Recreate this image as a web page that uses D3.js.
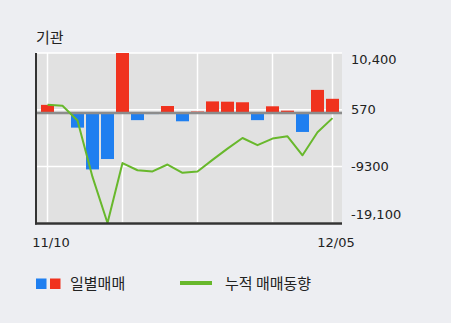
<!DOCTYPE html>
<html><head><meta charset="utf-8">
<script src="https://cdn.jsdelivr.net/npm/d3@7/dist/d3.min.js"></script>
<style>
html,body{margin:0;padding:0;background:#edeef2;}
svg{display:block;}
</style></head>
<body>
<script>
// ---- data ----
const dates = ["11/10","11/11","11/12","11/13","11/14","11/17","11/18","11/19","11/20","11/21",
               "11/24","11/25","11/26","11/27","11/28","12/01","12/02","12/03","12/04","12/05"];
const daily = [1400,-150,-2550,-9800,-8000,10400,-1250,-200,1200,-1450,
               250,2000,1950,1850,-1250,1150,400,-3300,4000,2450];
const cumulative = [1400,1250,-1300,-11100,-19100,-8700,-9950,-10150,-8950,-10400,
                    -10150,-8150,-6200,-4350,-5600,-4450,-4050,-7350,-3350,-900];
const yTickValues = [10400, 570, -9300, -19100];
const yTickLabels = ["10,400", "570", "-9300", "-19,100"];
const xLabelDates = ["11/10", "12/05"];
const gridDates = ["11/10", "11/17", "11/24", "12/01", "12/05"];
const title = "기관";
const legendBars = "일별매매";
const legendLine = "누적 매매동향";

// ---- layout ----
const W = 451, H = 323;
const plot = {x0: 36, x1: 342, y0: 53, y1: 223};
const svg = d3.select("body").append("svg").attr("width", W).attr("height", H);
const kr = "'Noto Sans CJK KR', 'Noto Sans', sans-serif";
const num = "'DejaVu Sans', sans-serif";

const x = d3.scaleBand().domain(dates).range([40, 340]).paddingInner(2/15).paddingOuter(1/15);
const y = d3.scaleLinear().domain([-19100, 10400]).range([plot.y1, plot.y0]);
const cx = d => x(d) + x.bandwidth() / 2;

// title
svg.append("text").attr("x", 36).attr("y", 43).attr("font-family", kr).attr("font-size", 15)
  .attr("fill", "#222").text(title);

// plot background
svg.append("rect").attr("x", plot.x0).attr("y", plot.y0).attr("width", plot.x1 - plot.x0)
  .attr("height", plot.y1 - plot.y0).attr("fill", "#e1e1e1");

// horizontal grid
svg.append("g").selectAll("line").data(yTickValues).join("line")
  .attr("x1", plot.x0).attr("x2", plot.x1)
  .attr("y1", d => y(d)).attr("y2", d => y(d))
  .attr("stroke", "#fff").attr("stroke-width", 1.5);

// vertical grid
svg.append("g").selectAll("line").data(gridDates).join("line")
  .attr("x1", d => cx(d)).attr("x2", d => cx(d))
  .attr("y1", plot.y0).attr("y2", plot.y1)
  .attr("stroke", "#fff").attr("stroke-width", 1.5);

// bars
svg.append("g").selectAll("rect").data(daily).join("rect")
  .attr("x", (d, i) => x(dates[i]))
  .attr("width", x.bandwidth())
  .attr("y", d => y(Math.max(0, d)))
  .attr("height", d => Math.abs(y(d) - y(0)))
  .attr("fill", d => d >= 0 ? "#f0321e" : "#1f7ff0");

// zero line
svg.append("line").attr("x1", plot.x0).attr("x2", plot.x1)
  .attr("y1", y(0)).attr("y2", y(0)).attr("stroke", "#8c8c8c").attr("stroke-width", 2.5);

// cumulative line
const line = d3.line().x((d, i) => cx(dates[i])).y(d => y(d));
svg.append("path").datum(cumulative).attr("d", line)
  .attr("fill", "none").attr("stroke", "#68b82c").attr("stroke-width", 2)
  .attr("stroke-linejoin", "round");

// axes lines
svg.append("line").attr("x1", plot.x0).attr("x2", plot.x0).attr("y1", plot.y0).attr("y2", plot.y1 + 1.5)
  .attr("stroke", "#333").attr("stroke-width", 2);
svg.append("line").attr("x1", plot.x0 - 1).attr("x2", plot.x1).attr("y1", plot.y1 + 0.5).attr("y2", plot.y1 + 0.5)
  .attr("stroke", "#333").attr("stroke-width", 2.5);

// y labels (right)
svg.append("g").selectAll("text").data(yTickValues).join("text")
  .attr("x", 351)
  .attr("y", (d, i) => Math.min(Math.max(y(d), 59), 214))
  .attr("dy", "0.36em")
  .attr("font-family", num).attr("font-size", 13).attr("fill", "#222")
  .text((d, i) => yTickLabels[i]);

// x labels
svg.append("g").selectAll("text").data(xLabelDates).join("text")
  .attr("x", d => cx(d) + 3.5).attr("y", 246.5)
  .attr("text-anchor", "middle")
  .attr("font-family", num).attr("font-size", 13).attr("fill", "#222")
  .text(d => d);

// legend
const lg = svg.append("g");
lg.append("rect").attr("x", 36).attr("y", 278.5).attr("width", 10.5).attr("height", 10.5).attr("fill", "#1f7ff0");
lg.append("rect").attr("x", 50).attr("y", 278.5).attr("width", 10.5).attr("height", 10.5).attr("fill", "#f0321e");
lg.append("text").attr("x", 70).attr("y", 289).attr("font-family", kr).attr("font-size", 15)
  .attr("fill", "#222").text(legendBars);
lg.append("line").attr("x1", 180).attr("x2", 212).attr("y1", 283).attr("y2", 283)
  .attr("stroke", "#68b82c").attr("stroke-width", 4);
lg.append("text").attr("x", 225).attr("y", 289).attr("font-family", kr).attr("font-size", 15)
  .attr("fill", "#222").text(legendLine);
</script>
</body></html>
